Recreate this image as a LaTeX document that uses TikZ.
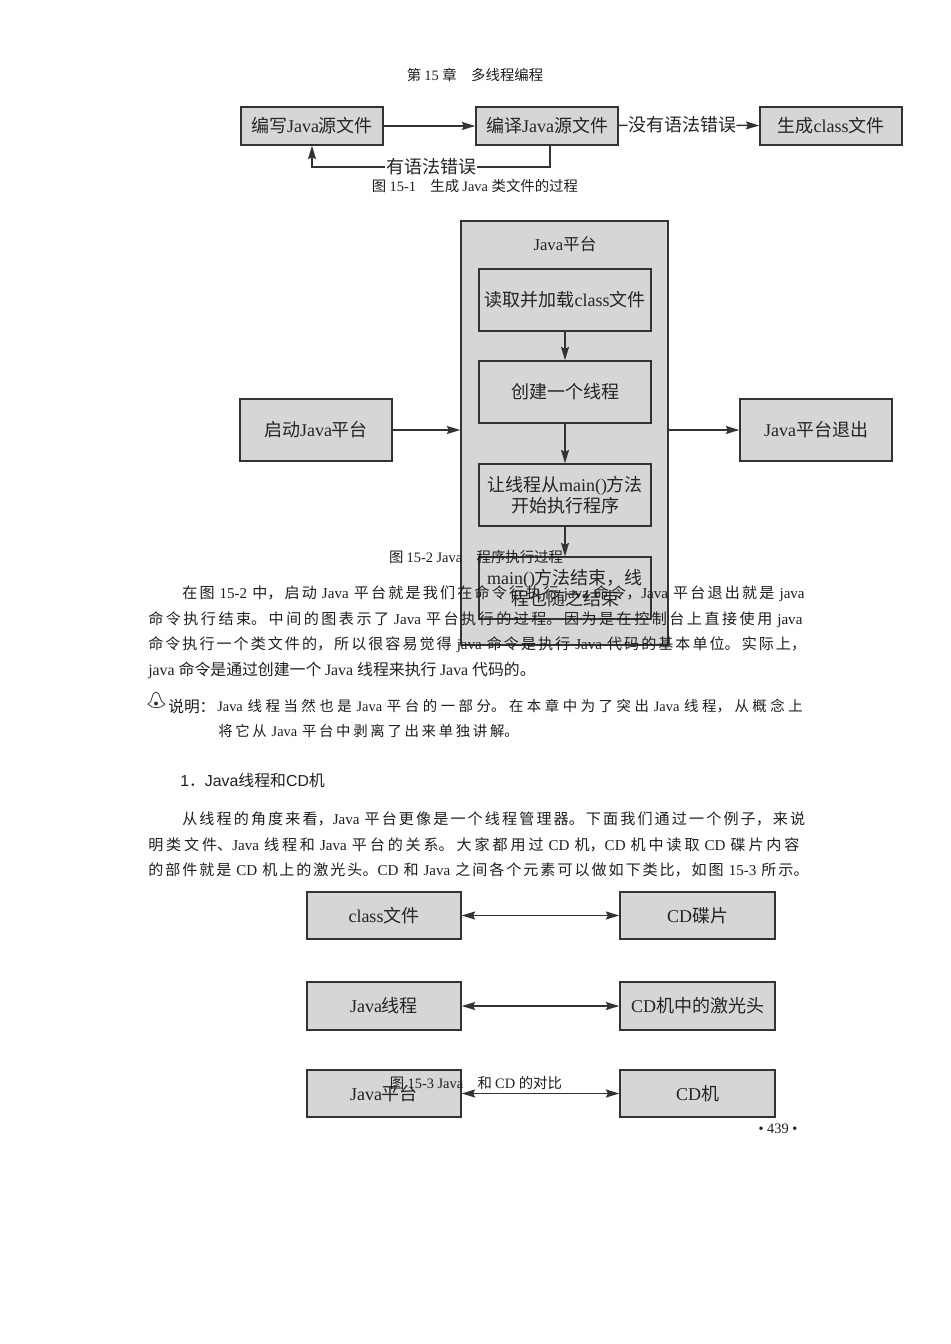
\documentclass[tikz,border=0pt]{standalone}
\usepackage{fontspec}
\usetikzlibrary{arrows.meta,calc}
\setmainfont{Liberation Serif}
\setsansfont{Liberation Sans}
\newfontfamily\cjkf{Noto Sans CJK SC}
\chardef\cjkclass=7
\newcount\cc
\def\setrange#1#2{\cc=#1 \loop \XeTeXcharclass\cc=\cjkclass \advance\cc by 1 \ifnum\cc<#2 \repeat}
\setrange{"4E00}{"A000}
\setrange{"3000}{"3040}
\setrange{"FF00}{"FFF0}
\def\latinf{\rmfamily}
\XeTeXinterchartoks 0 \cjkclass={\cjkf}
\XeTeXinterchartoks 4095 \cjkclass={\cjkf}
\XeTeXinterchartoks \cjkclass 0={\latinf}
\XeTeXinterchartoks 4095 0={\latinf}
\XeTeXinterchartokenstate=1
\XeTeXlinebreaklocale "zh"
\XeTeXlinebreakskip=0pt plus 3pt minus 0.5pt
\definecolor{boxgray}{HTML}{D6D6D6}
\definecolor{ink}{HTML}{333333}
\definecolor{txt}{HTML}{1E1E1E}
\tikzset{
  x=0.75pt,y=-0.75pt,
  boxed/.style={draw=ink,line width=1.15pt,fill=boxgray,inner sep=0pt,minimum width=#1},
  flow/.style={draw=ink,line width=1.1pt,-{Stealth[length=10pt,width=6pt,inset=1.5pt]}},
  plainline/.style={draw=ink,line width=1.1pt},
  bothway/.style={draw=ink,line width=1.1pt,{Stealth[length=10pt,width=6pt,inset=1.5pt]}-{Stealth[length=10pt,width=6pt,inset=1.5pt]}},
  boxfont/.style={font=\fontsize{13.5pt}{16pt}\selectfont,text=ink!70!black,align=center},
  captxt/.style={font=\fontsize{10.8pt}{12pt}\selectfont,text=txt,inner sep=0pt},
  bodyline/.style={anchor=west,inner sep=0pt,text=txt,text width=#1,
    font=\fontsize{11.3pt}{13pt}\selectfont,
    execute at begin node={\parindent=0pt\parfillskip=0pt\emergencystretch=20pt}},
  noteline/.style={bodyline=#1,font=\fontsize{10.8pt}{13pt}\selectfont},
  freeline/.style={anchor=west,inner sep=0pt,text=txt,font=\fontsize{11.3pt}{13pt}\selectfont},
}
\newcommand\rbox[6]{% name, x0,y0,x1,y1,text
  \node[boxed=#4*0.75pt-#2*0.75pt,boxfont,minimum height=#5*0.75pt-#3*0.75pt] (#1) at ({(#2+#4)/2},{(#3+#5)/2}) {#6};}
\begin{document}
\begin{tikzpicture}
\useasboundingbox (0,0) rectangle (950,1344);
\fill[white] (0,0) rectangle (950,1344);

% Figure 15-1
\rbox{a1}{241}{107}{383}{145}{编写Java源文件}
\rbox{a2}{476}{107}{618}{145}{编译Java源文件}
\rbox{a3}{760}{107}{902}{145}{生成class文件}
\node[boxfont,inner sep=0pt,fill=white,minimum width=108pt*0.75] (ok) at (682,125) {没有语法错误};
\node[boxfont,inner sep=0pt,fill=white,minimum width=92pt*0.75] (err) at (431,167) {有语法错误};
\coordinate (fr) at (550,167);
\coordinate (fl) at (312,167);
\draw[flow] (a1) -- (a2);
\draw[plainline] (a2) -- (ok);
\draw[flow] (ok) -- (a3);
\draw[plainline] (fr |- a2.south) -- (fr) -- (err);
\draw[flow] (err) -- (fl) -- (fl |- a1.south);

% Figure 15-2
\rbox{big}{461}{221}{668}{645}{}
\node[boxfont,font=\fontsize{12.5pt}{14pt}\selectfont,inner sep=0pt] (plat) at (565,244) {Java平台};
\rbox{b1}{479}{269}{651}{331}{读取并加载class文件}
\rbox{b2}{479}{361}{651}{423}{创建一个线程}
\rbox{b3}{479}{464}{651}{526}{让线程从main()方法\\开始执行程序}
\rbox{b4}{479}{557}{651}{619}{main()方法结束，线\\程也随之结束}
\rbox{st}{240}{399}{392}{461}{启动Java平台}
\rbox{ex}{740}{399}{892}{461}{Java平台退出}
\draw[flow] (b1) -- (b2);
\draw[flow] (b2) -- (b3);
\draw[flow] (b3) -- (b4);
\draw[flow] (st) -- (big.west |- st);
\draw[flow] (big.east |- ex) -- (ex);

% Figure 15-3
\rbox{c1}{307}{892}{461}{939}{class文件}
\rbox{c2}{620}{892}{775}{939}{CD碟片}
\rbox{d1}{307}{982}{461}{1030}{Java线程}
\rbox{d2}{620}{982}{775}{1030}{CD机中的激光头}
\rbox{e1}{307}{1070}{461}{1117}{Java平台}
\rbox{e2}{620}{1070}{775}{1117}{CD机}
\draw[bothway] (c1) -- (c2);
\draw[bothway] (d1) -- (d2);
\draw[bothway] (e1) -- (e2);

% Page texts
\node[captxt] (head) at (475,75) {第 15 章\quad 多线程编程};
\node[captxt] (cap1) at (475,186) {图 15-1\quad 生成 Java 类文件的过程};
\node[captxt] (cap2) at (476,557) {图 15-2 Java\quad 程序执行过程};
\node[captxt] (cap3) at (476,1083) {图 15-3 Java\quad 和 CD 的对比};
\node[captxt] (pg) at (778,1129) {• 439 •};

\node[bodyline=639*0.75pt] (p1) at (182,594) {在图 15-2 中，启动 Java 平台就是我们在命令行执行 java 命令，Java 平台退出就是 java};
\node[bodyline=673*0.75pt] (p2) at (148,620) {命令执行结束。中间的图表示了 Java 平台执行的过程。因为是在控制台上直接使用 java};
\node[bodyline=673*0.75pt] (p3) at (148,645) {命令执行一个类文件的，所以很容易觉得 java 命令是执行 Java 代码的基本单位。实际上，};
\node[freeline,font=\fontsize{11.9pt}{13pt}\selectfont] (p4) at (148,670) {java 命令是通过创建一个 Java 线程来执行 Java 代码的。};

% bell icon
\draw[ink,line width=0.6pt,fill=white] (148,704) .. controls (153,703) and (151,692) .. (156,692) .. controls (161,692) and (159,703) .. (165,704) .. controls (161,709) and (152,709) .. (148,704) -- cycle;
\fill[ink] (156,703.5) circle (2);

\node[freeline,font=\fontsize{11.8pt}{13pt}\selectfont] (n0) at (168,707) {说明：};
\node[noteline=611*0.75pt] (n1) at (217,706) {Java 线程当然也是 Java 平台的一部分。在本章中为了突出 Java 线程，从概念上};
\node[noteline=320*0.75pt] (n2) at (218,731) {将它从 Java 平台中剥离了出来单独讲解。};

\node[freeline,font=\fontsize{11.9pt}{13pt}\selectfont\sffamily\def\latinf{\sffamily}] (h1) at (180,780) {1．Java线程和CD机};

\node[bodyline=639*0.75pt] (q1) at (182,819) {从线程的角度来看，Java 平台更像是一个线程管理器。下面我们通过一个例子，来说};
\node[bodyline=673*0.75pt] (q2) at (148,845) {明类文件、Java 线程和 Java 平台的关系。大家都用过 CD 机，CD 机中读取 CD 碟片内容};
\node[bodyline=675*0.75pt] (q3) at (148,870) {的部件就是 CD 机上的激光头。CD 和 Java 之间各个元素可以做如下类比，如图 15-3 所示。};
\end{tikzpicture}
\end{document}
